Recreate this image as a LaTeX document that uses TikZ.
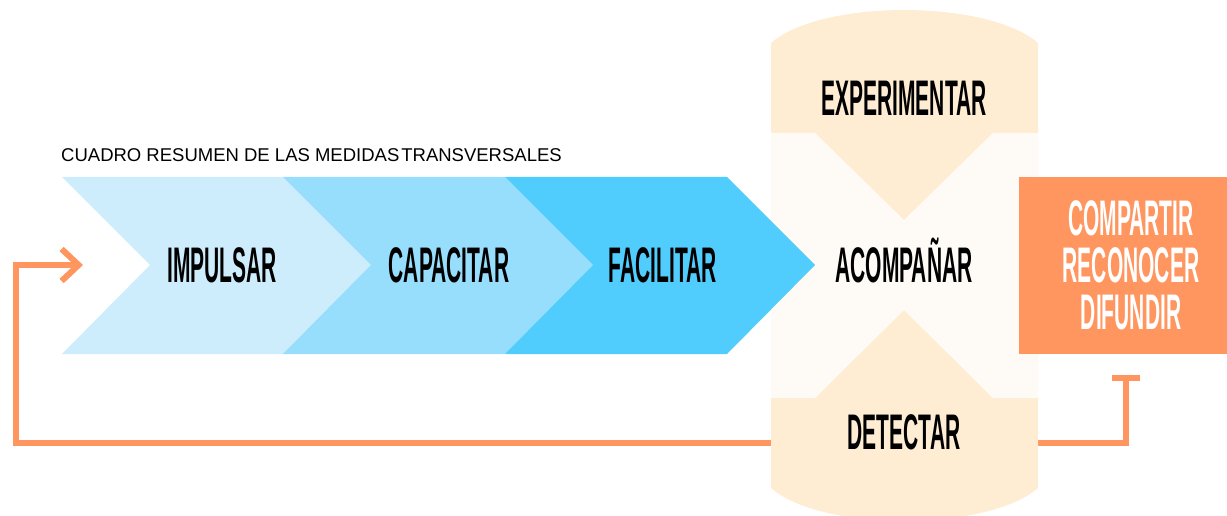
\documentclass[tikz,border=0pt]{standalone}
\usepackage{fontspec}
\setmainfont{Liberation Sans}
\newfontfamily\dispfont[FakeStretch=0.42]{Liberation Sans}
\usetikzlibrary{arrows.meta}
\definecolor{chevlight}{HTML}{CDEDFC}
\definecolor{chevmid}{HTML}{97DDFC}
\definecolor{chevdeep}{HTML}{50CDFC}
\definecolor{peach}{HTML}{FEEDD3}
\definecolor{creamy}{HTML}{FEFBF6}
\definecolor{loopor}{HTML}{FF955F}
\tikzset{
  stagetext/.style={font=\fontsize{50}{47}\dispfont\bfseries, text height=35pt, text depth=0pt, inner sep=0pt},
  loopline/.style={draw=loopor, line width=6pt}
}

\begin{document}
\begin{tikzpicture}[x=1pt, y=-1pt]
    \useasboundingbox (0,0) rectangle (1227,516);

    % ===== Feedback loop (behind the cylinder) =====
    \coordinate (tbar) at (1126,375);
    \coordinate (inlet) at (83,265);
    \draw[loopline, {Bar[width=28pt]}-{Straight Barb[length=17pt, width=32pt]}]
        (tbar) |- (16,443) |- (inlet);

    % ===== Cylinder =====
    \fill[peach] (771,43) .. controls (800,18) and (860,10) .. (904,10)
        .. controls (948,10) and (1009,18) .. (1038,43) -- (1038,488)
        .. controls (1009,513) and (948,521) .. (904,521)
        .. controls (860,521) and (800,513) .. (771,488) -- cycle;
    % Middle band
    \fill[creamy] (771,133) -- (815,133) -- (904,220) -- (993,133) -- (1038,133)
        -- (1038,398) -- (993,398) -- (904,310) -- (815,398) -- (771,398) -- cycle;
    \node[stagetext] (experimentar) at (904,98.5) {EXPERIMENTAR};
    \node[stagetext] (acompanar) at (904,265) {ACOMPAÑAR};
    \node[stagetext] (detectar) at (904,431.5) {DETECTAR};

    % ===== Chevrons =====
    \foreach \x/\c in {62/chevlight, 283/chevmid, 505/chevdeep} {
        \fill[\c] (\x,177) -- (\x+222,177) -- (\x+310,265) -- (\x+222,354)
            -- (\x,354) -- (\x+88,265) -- cycle;
    }
    \node[stagetext] (impulsar) at (222,265) {IMPULSAR};
    \node[stagetext] (capacitar) at (449,265) {CAPACITAR};
    \node[stagetext] (facilitar) at (663,265) {FACILITAR};

    % Title
    \node[anchor=base west, inner sep=0pt, font=\fontsize{18.5}{22}\selectfont] (title)
        at (61,162) {CUADRO RESUMEN DE LAS MEDIDAS\kern2pt TRANSVERSALES};

    % ===== Result box =====
    \node[fill=loopor, minimum width=224pt, minimum height=177pt, inner sep=0pt] (share) at (1131,265.5) {};
    \node[text=white, align=center, inner sep=0pt, font=\fontsize{50}{47}\dispfont\bfseries] (sharetext)
        at (share.center) {COMPARTIR\\RECONOCER\\DIFUNDIR};
\end{tikzpicture}
\end{document}
